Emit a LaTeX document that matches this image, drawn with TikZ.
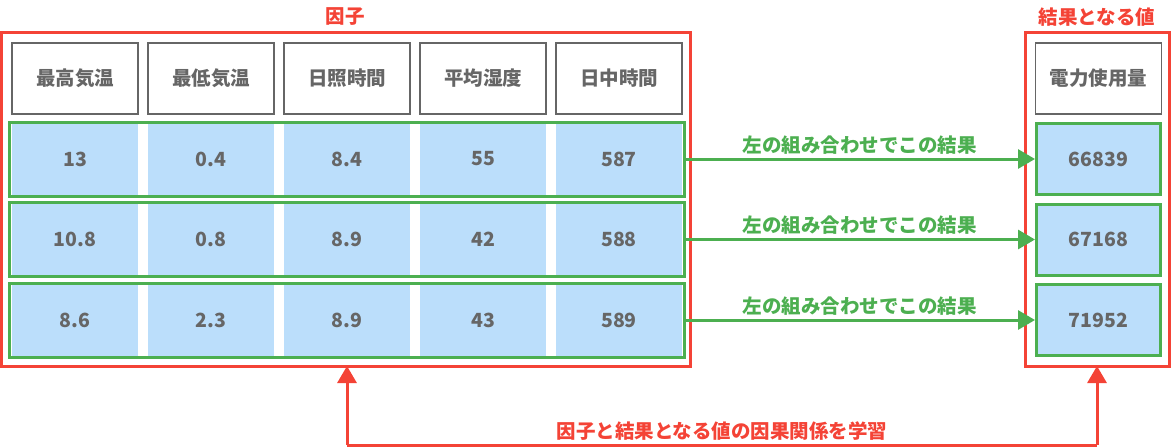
\documentclass[tikz,border=0pt]{standalone}
\usepackage{fontspec}
\setmainfont{Noto Sans CJK JP}
\usetikzlibrary{arrows.meta,positioning}
\definecolor{factorred}{HTML}{F44336}
\definecolor{rowgreen}{HTML}{4CAF50}
\definecolor{cellblue}{HTML}{BBDEFB}
\definecolor{textgray}{HTML}{666666}

\begin{document}
\begin{tikzpicture}[
    x=1pt, y=-1pt,
    >={Triangle[length=17pt,width=19pt]},
    every node/.style={font=\bfseries\fontsize{19.5}{22}\selectfont, text=textgray},
    headcell/.style={draw=textgray, line width=1.2pt, minimum width=126pt, minimum height=71pt, inner sep=0pt},
    datacell/.style={fill=cellblue, minimum width=126pt, minimum height=74pt, inner sep=0pt},
    rowbox/.style={draw=rowgreen, line width=3pt},
    groupbox/.style={draw=factorred, line width=3pt},
    grouptitle/.style={text=factorred},
    result/.style={->, rowgreen, line width=3pt},
    learn/.style={->, factorred, line width=3pt}
]
    \useasboundingbox (0,0) rectangle (1172,447);

    % === FACTORS ===
    \draw[groupbox] (1.5,32) rectangle (690,366);
    \node[grouptitle] (factortitle) at (345,17) {因子};

    \foreach \name [count=\i] in {最高気温,最低気温,日照時間,平均湿度,日中時間} {
        \node[headcell] (h\i) at (75+136*\i-136,78.5) {\name};
    }

    % data rows
    \foreach \vals [count=\r] in {{13,0.4,8.4,55,587},{10.8,0.8,8.9,42,588},{8.6,2.3,8.9,43,589}} {
        \foreach \v [count=\c] in \vals {
            \node[datacell] (r\r c\c) at (75+136*\c-136,159+80.5*\r-80.5) {\v};
        }
        \draw[rowbox] (9,122+80.5*\r-80.5) rectangle (684,196+80.5*\r-80.5);
        \coordinate (row\r) at (684,159+80.5*\r-80.5);
    }

    % === RESULTS ===
    \draw[groupbox] (1025,32) rectangle (1169,366);
    \node[grouptitle] (resulttitle) at (1097,17) {結果となる値};
    \node[headcell] (hres) at (1098.5,78.5) {電力使用量};

    \foreach \v [count=\r] in {66839,67168,71952} {
        \node[datacell, draw=rowgreen, line width=3pt, minimum width=124pt, minimum height=71pt] (res\r) at (1098.5,159+80.5*\r-80.5) {\v};
        \draw[result] (row\r) -- node[above=0pt, text=rowgreen] {左の組み合わせでこの結果} (res\r.west);
    }

    % === LEARNING ===
    \coordinate (learnL) at (347,445);
    \coordinate (learnR) at (1097,445);
    \coordinate (factorbot) at (347,366);
    \coordinate (resultbot) at (1097,366);
    \draw[learn] (learnL) -- (factorbot);
    \draw[learn] (learnR) -- (resultbot);
    \draw[factorred, line width=3pt] (learnL) -- node[above=0pt, text=factorred] (learntext) {因子と結果となる値の因果関係を学習} (learnR);
\end{tikzpicture}
\end{document}
